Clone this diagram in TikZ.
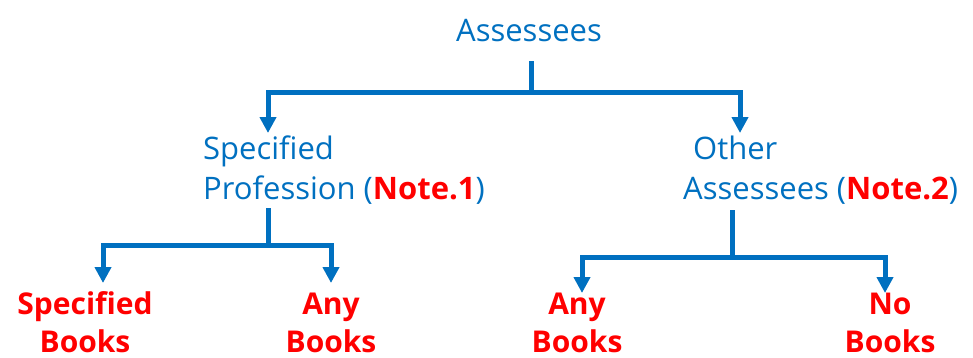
\documentclass[tikz,border=0pt]{standalone}
\usepackage{fontspec}
\setmainfont{Open Sans}
\usetikzlibrary{arrows.meta}
\definecolor{tblue}{HTML}{0070C0}
\definecolor{tred}{HTML}{FF0000}
\begin{document}
\begin{tikzpicture}[x=1pt,y=-1pt,
  lbl/.style={text=tblue, font=\fontsize{31}{40}\selectfont, inner sep=0pt, anchor=base west, align=left},
  leaf/.style={text=tred, font=\bfseries\fontsize{30}{38}\selectfont, inner sep=0pt, align=center, anchor=base, text depth=0pt},
  link/.style={draw=tblue, line width=5pt},
  arr/.style={link, -{Triangle[length=16pt,width=16pt]}}]
\useasboundingbox (0,0) rectangle (973,357);

% categories (base anchor sits on the last line)
\node[lbl, anchor=base] (root) at (529,41) {Assessees};
\node[lbl] (sp) at (203,199) {Specified\\Profession (\textcolor{tred}{\textbf{Note.1}})};
\node[lbl] (oa) at (683,199) {\hspace{10pt}Other\\Assessees (\textcolor{tred}{\textbf{Note.2}})};

% books to be kept
\node[leaf] (l1) at (85,352) {Specified\\Books};
\node[leaf] (l2) at (331,352) {Any\\Books};
\node[leaf] (l3) at (577,352) {Any\\Books};
\node[leaf] (l4) at (890,352) {No\\Books};

% junction points and arrow tips
\coordinate (rs) at (531,61);
\coordinate (rj) at (531,92);
\coordinate (tsp) at (268,133);
\coordinate (toa) at (740,133);
\coordinate (sps) at (268,208);
\coordinate (spj) at (268,245);
\coordinate (t1) at (103,283);
\coordinate (t2) at (331,283);
\coordinate (oas) at (732,210);
\coordinate (oaj) at (732,257);
\coordinate (t3) at (582,293);
\coordinate (t4) at (885,293);

% first level
\draw[link] (rs) -- (rj);
\draw[arr] (rj) -| (tsp);
\draw[arr] (rj) -| (toa);

% second level, left
\draw[link] (sps) -- (spj);
\draw[arr] (spj) -| (t1);
\draw[arr] (spj) -| (t2);

% second level, right
\draw[link] (oas) -- (oaj);
\draw[arr] (oaj) -| (t3);
\draw[arr] (oaj) -| (t4);
\end{tikzpicture}
\end{document}
